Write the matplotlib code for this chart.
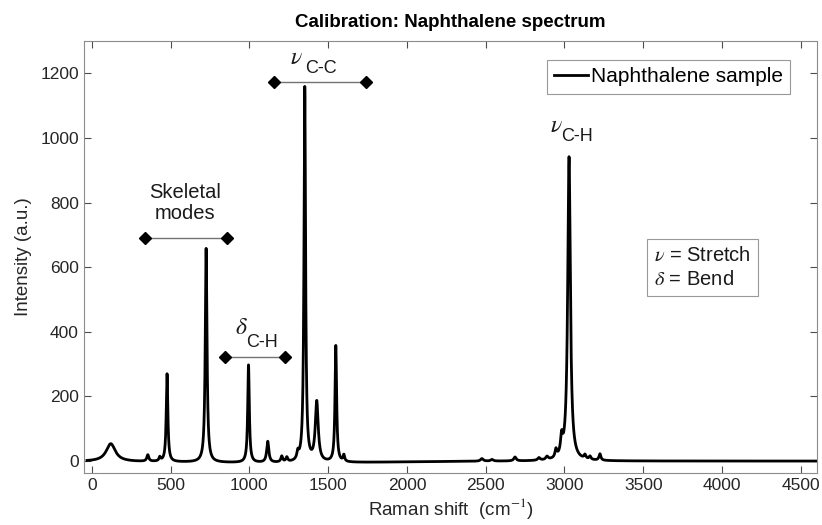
import numpy as np
import matplotlib.pyplot as plt

plt.rcParams['font.family'] = ['Liberation Sans', 'DejaVu Sans']
plt.rcParams['mathtext.fontset'] = 'stix'

# Peaks: centre (cm-1), height (a.u.), FWHM (cm-1)
peak_pos = [121, 356, 432, 478, 726, 995, 1117, 1206, 1238, 1308, 1352, 1428,
            1549, 1600, 2476, 2540, 2686, 2838, 2889, 2946, 2982, 3029, 3130,
            3162, 3225]
peak_height = [55, 20, 12, 272, 662, 302, 65, 18, 14, 22, 1160, 185,
               360, 20, 8, 5, 12, 8, 10, 25, 55, 940, 12,
               10, 20]
peak_fwhm = [70, 15, 12, 12, 13, 12, 16, 14, 14, 14, 12, 22,
             12, 12, 20, 20, 18, 18, 18, 14, 16, 20, 14,
             14, 14]

# slight sag of the baseline under the fingerprint region
baseline_centre = 1200
baseline_depth = -6
baseline_width = 900

# bracket annotations: x start, x end, height
bracket_x0 = [337, 844, 1156]
bracket_x1 = [857, 1225, 1740]
bracket_y = [691, 321, 1173]

shift = np.arange(-30, 4601, 1.0)
intensity = np.zeros_like(shift)
for c, h, w in zip(peak_pos, peak_height, peak_fwhm):
    intensity += h * (w / 2) ** 2 / ((shift - c) ** 2 + (w / 2) ** 2)
intensity += baseline_depth * np.exp(-((shift - baseline_centre) / baseline_width) ** 2)

fig = plt.figure(figsize=(8.22, 5.25), dpi=100)
ax = fig.add_axes([0.102, 0.099, 0.892, 0.823])

ax.plot(shift, intensity, color='black', lw=2, label='Naphthalene sample')

for x0, x1, y in zip(bracket_x0, bracket_x1, bracket_y):
    ax.plot([x0, x1], [y, y], color='0.45', lw=1)
    ax.plot([x0, x1], [y, y], 'D', color='black', ms=6.5, ls='none')

# labels
ax.text(590, 799, 'Skeletal\nmodes', ha='center', va='center', fontsize=14.5,
        linespacing=1.15, color='#1a1a1a')

nu_font = dict(family='STIXGeneral', style='italic', fontsize=17, color='#1a1a1a')
sub_font = dict(fontsize=13, color='#1a1a1a')
ax.text(1295, 1247, 'ν', ha='center', va='center', **nu_font)
ax.text(1455, 1216, 'C-C', ha='center', va='center', **sub_font)
ax.text(945, 414, 'δ', ha='center', va='center', **nu_font)
ax.text(1079, 367, 'C-H', ha='center', va='center', **sub_font)
ax.text(2945, 1037, 'ν', ha='center', va='center', **nu_font)
ax.text(3079, 1003, 'C-H', ha='center', va='center', **sub_font)

ax.text(0.778, 0.525, '$\\nu$ = Stretch\n$\\delta$ = Bend', transform=ax.transAxes,
        ha='left', va='top', fontsize=14.5, linespacing=1.35, color='#1a1a1a',
        bbox=dict(boxstyle='square,pad=0.35', fc='white', ec='0.6', lw=0.8))

ax.set_xlim(-50, 4603)
ax.set_ylim(-37, 1300)
ax.set_xticks(np.arange(0, 4501, 500))
ax.set_yticks(np.arange(0, 1201, 200))
ax.tick_params(direction='in', top=True, right=True, length=5, width=0.8,
               color='0.3', labelsize=12.5, labelcolor='#262626')
for s in ax.spines.values():
    s.set_color('0.55')
    s.set_linewidth(0.8)

ax.set_xlabel('Raman shift  (cm$^{-1}$)', fontsize=13.5, color='#262626', labelpad=2)
ax.set_ylabel('Intensity (a.u.)', fontsize=13.5, color='#262626', labelpad=6)
ax.set_title('Calibration: Naphthalene spectrum', fontsize=13.5, fontweight='bold',
             color='black', pad=10)

leg = ax.legend(loc='upper right', bbox_to_anchor=(0.963, 0.956), borderaxespad=0,
                fontsize=15, fancybox=False, framealpha=1, edgecolor='0.6',
                handlelength=1.6, handletextpad=0.15, borderpad=0.35)
leg.get_frame().set_linewidth(0.8)

fig.savefig('out.png', dpi=100)
